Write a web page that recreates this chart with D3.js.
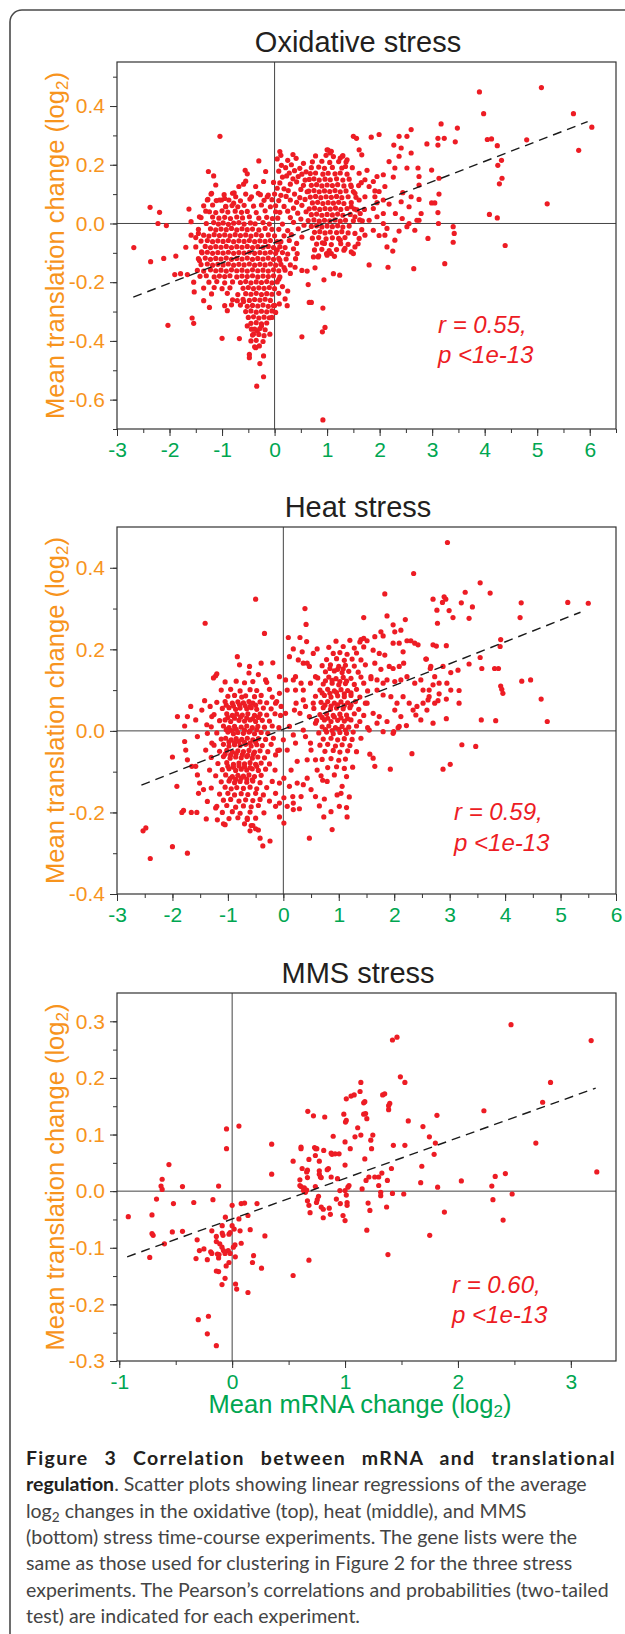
<!DOCTYPE html>
<html>
<head>
<meta charset="utf-8">
<script src="https://cdn.jsdelivr.net/npm/d3@7"></script>
<style>
  body { margin: 0; background: #fff; }
  svg { display: block; }
</style>
</head>
<body>
<svg id="fig" width="625" height="1634"></svg>
<script>
// ---- data (log2 mRNA change, log2 translation change) ----

// oxidative stress
const oxiPoints = [
  // sparse points right of the clusters
  [3.90,0.448],[5.08,0.463],[3.98,0.374],[5.69,0.374],[6.04,0.328],[5.79,0.249],[5.19,0.067],
  [3.17,0.339],[3.48,0.325],[2.60,0.32],[3.11,0.29],[3.23,0.29],[3.44,0.278],[3.11,0.267],[2.90,0.271],
  [4.05,0.286],[4.13,0.288],[4.80,0.285],[4.24,0.265],[4.32,0.215],[4.25,0.198],[4.33,0.154],[4.28,0.135],
  [4.09,0.031],[4.24,0.019],[4.39,-0.075],[3.40,-0.011],[3.42,-0.034],[3.40,-0.064],[3.24,-0.137],
  [3.12,0.0],[3.11,0.037],[3.13,0.10],[2.99,0.07],[3.05,0.07],[3.13,0.154],[2.99,0.182],[2.73,0.189],
  [2.52,0.189],[2.75,0.16],[2.75,0.131],[2.75,0.082],[2.79,0.034],[2.75,0.011],[2.92,-0.051],[2.65,-0.154],
  [2.16,-0.149],[2.25,-0.094],[2.14,-0.08],[1.80,-0.141],[2.37,0.297],[2.52,0.297],[1.99,0.303],[1.84,0.294],
  [1.50,0.297],[1.56,0.29],[2.27,0.267],[2.41,0.257],[2.37,0.229],[2.18,0.211],[2.29,0.189],[2.60,0.24],
  [2.07,0.166],[2.26,0.158],[1.76,0.181],[1.65,0.139],[2.10,0.126],[1.91,0.111],[2.44,0.105],[2.60,0.091],
  [2.41,0.074],[2.56,0.057],[2.18,0.066],[1.95,0.071],[1.88,0.051],[2.07,0.034],[2.30,0.034],[2.43,0.017],
  [2.52,-0.011],[2.37,-0.026],[2.14,-0.017],[2.10,-0.04],[1.99,-0.041],[2.29,-0.057],[2.67,-0.023],[2.56,0.0],
  [2.71,0.011],[1.63,0.034],[1.71,0.048],
  [1.46,0.126],[1.53,0.103],[1.61,0.08],[1.72,0.091],[1.80,0.126],[1.88,0.143],[1.99,0.109],[1.91,0.091],
  [1.61,0.171],[1.72,0.149],[1.95,0.16],[2.07,0.08],[1.80,0.011],[1.88,-0.023],[2.07,0.0],[1.72,-0.04],
  [1.95,0.023],[1.46,0.057],[1.53,-0.034],[1.61,-0.051],
  [1.35,0.194],[1.38,0.217],[1.66,0.234],[1.61,0.251],[1.25,0.223],[1.29,0.229],[1.0,0.251],[1.06,0.24],
  [1.66,-0.021],[1.67,0.009],[1.53,0.023],[1.57,0.046],
  // below the right cluster
  [0.92,-0.669],[0.52,-0.386],[0.96,-0.354],[0.91,-0.369],[0.92,-0.288],[0.66,-0.269],[0.70,-0.269],
  [0.64,-0.208],[0.94,-0.192],[0.77,-0.151],[1.12,-0.171],[1.24,-0.176],[0.52,-0.16],[0.62,-0.162],
  [0.39,-0.149],[0.43,-0.103],[0.74,-0.114],[0.83,-0.114],[0.99,-0.103],[1.08,-0.103],[0.91,-0.066],
  [1.25,-0.057],[1.34,-0.085],[1.53,-0.08],[1.59,-0.069],[1.46,-0.097],[1.50,-0.103],
  // left side
  [-2.68,-0.082],[-2.37,0.055],[-2.19,0.038],[-2.22,0.0],[-2.06,-0.007],[-2.36,-0.130],[-2.11,-0.119],
  [-1.88,-0.111],[-2.03,-0.347],[-1.69,-0.081],[-1.90,-0.174],[-1.79,-0.171],[-1.66,-0.174],[-1.57,-0.322],
  [-1.54,-0.34],[-1.63,0.049],[-1.59,0.006],[-1.59,-0.04],[-1.50,-0.048],[-1.54,-0.2],[-1.53,-0.233],
  [-1.47,-0.16],[-1.43,-0.126],[-1.35,-0.263],[-1.24,-0.286],[-1.26,0.177],[-1.16,0.162],[-1.12,0.131],
  [-1.04,0.297],[-1.00,-0.391],[-0.67,-0.392],[-0.90,-0.297],[-0.82,-0.277],[-0.71,-0.263],[-0.59,-0.266],
  [-1.28,0.08],[-1.20,0.103],[-1.31,0.042],[-1.43,0.023],[-1.45,-0.034],[-1.39,-0.097],[-1.05,0.08],
  [-1.01,0.08],[-0.95,0.085],[-0.68,0.126],[-0.59,0.134],[-0.55,0.144],[-0.56,0.181],[-0.52,0.169],
  [-0.30,0.213],[-0.17,0.177],[-0.36,0.126],[-0.21,0.143],[-0.44,0.091],[-0.27,0.098],[-0.14,0.091],
  [-0.80,0.103],[-0.74,0.091],[-0.93,0.057],[-0.78,0.069],
  // tail going down near zero
  [-0.34,-0.554],[-0.21,-0.522],[-0.28,-0.477],[-0.21,-0.451],[-0.48,-0.446],[-0.48,-0.457],[-0.36,-0.423],
  [-0.29,-0.417],[-0.09,-0.377],[-0.40,-0.377],[-0.33,-0.366],[-0.44,-0.36],[-0.52,-0.349],[-0.25,-0.349],
  [-0.05,-0.32],[0.02,-0.303],[-0.02,-0.28],[0.09,-0.274],[0.20,-0.257],[0.24,-0.28],
  // between the clusters
  [0.10,0.245],[0.12,0.232],[0.35,0.235],[0.05,0.22],[0.25,0.215],[0.41,0.222],[0.55,0.205],
  [0.13,0.198],[0.21,0.19],[0.32,0.2],[0.48,0.188],[0.08,0.178],[0.28,0.172],[0.38,0.18],[0.52,0.168],
  [0.60,0.176],[0.15,0.158],[0.23,0.162],[0.35,0.152],[0.45,0.16],[0.58,0.148],[-0.02,0.14],[0.10,0.138],
  [0.30,0.134],[0.42,0.142],[0.55,0.13],[0.05,0.12],[0.18,0.118],[0.26,0.112],[0.50,0.116],[0.62,0.108],
  [0.00,0.10],[0.12,0.096],[0.22,0.092],[0.38,0.1],[0.48,0.088],[0.08,0.078],[0.30,0.08],[0.42,0.072],
  [0.58,0.082],[0.02,0.06],[0.18,0.058],[0.36,0.052],[0.52,0.062],[0.10,0.038],[0.25,0.042],[0.44,0.035],
  [0.60,0.04],[0.06,0.018],[0.30,0.02],[0.50,0.015],[0.15,-0.002],[0.36,0.004],[0.56,-0.006],[0.08,-0.02],
  [0.25,-0.024],[0.45,-0.018],[0.18,-0.042],[0.32,-0.038],[0.52,-0.046],[0.12,-0.062],[0.28,-0.058],
  [0.42,-0.068],[0.20,-0.082],[0.36,-0.086],[0.05,-0.09],[0.25,-0.104],[0.40,-0.12],[0.10,-0.125],
  [0.18,-0.15],[0.30,-0.17],[0.08,-0.19],[0.15,-0.215],[0.25,-0.23],
  // dense left cluster
  [-1.21,0.1],[-0.96,0.098],[-0.77,0.104],[-0.55,0.1],[-0.31,0.103],[-0.12,0.097],
  [-1.27,0.082],[-1.11,0.078],[-0.87,0.08],[-0.65,0.077],[-0.47,0.083],[-0.20,0.079],[-0.05,0.081],
  [-1.35,0.06],[-1.18,0.063],[-0.93,0.058],[-0.81,0.061],[-0.70,0.057],[-0.58,0.062],[-0.40,0.059],[-0.25,0.063],[-0.08,0.057],
  [-1.24,0.04],[-1.12,0.037],[-1.00,0.043],[-0.89,0.039],[-0.75,0.042],[-0.63,0.038],[-0.52,0.041],[-0.35,0.037],[-0.18,0.043],[0.02,0.04],
  [-1.40,0.02],[-1.18,0.022],[-1.06,0.018],[-0.95,0.021],[-0.84,0.017],[-0.72,0.022],[-0.61,0.019],[-0.48,0.023],[-0.30,0.018],[-0.15,0.021],[-0.04,0.017],
  [-1.30,0.0],[-1.16,0.003],[-1.07,-0.002],[-0.98,0.002],[-0.88,-0.003],[-0.78,0.001],[-0.68,0.003],[-0.58,-0.002],[-0.46,0.002],[-0.37,-0.001],[-0.22,0.003],[-0.10,-0.002],
  [-1.45,-0.02],[-1.22,-0.018],[-1.12,-0.022],[-1.02,-0.019],[-0.92,-0.021],[-0.82,-0.017],[-0.72,-0.022],[-0.62,-0.018],[-0.52,-0.021],[-0.42,-0.019],[-0.30,-0.022],[-0.18,-0.017],[-0.05,-0.02],
  [-1.35,-0.04],[-1.25,-0.043],[-1.15,-0.038],[-1.05,-0.041],[-0.95,-0.039],[-0.85,-0.042],[-0.75,-0.038],[-0.65,-0.041],[-0.55,-0.039],[-0.45,-0.043],[-0.35,-0.038],[-0.25,-0.041],[-0.12,-0.039],[0.0,-0.042],
  [-1.40,-0.06],[-1.28,-0.058],[-1.18,-0.062],[-1.08,-0.059],[-0.98,-0.061],[-0.88,-0.058],[-0.78,-0.062],[-0.68,-0.059],[-0.58,-0.061],[-0.48,-0.058],[-0.38,-0.062],[-0.28,-0.059],[-0.18,-0.061],[-0.08,-0.058],[0.05,-0.062],
  [-1.50,-0.08],[-1.32,-0.078],[-1.22,-0.082],[-1.12,-0.079],[-1.02,-0.081],[-0.92,-0.078],[-0.82,-0.082],[-0.72,-0.079],[-0.62,-0.081],[-0.52,-0.078],[-0.42,-0.082],[-0.32,-0.079],[-0.22,-0.081],[-0.12,-0.078],[-0.02,-0.082],[0.10,-0.079],
  [-1.38,-0.1],[-1.28,-0.098],[-1.18,-0.102],[-1.08,-0.099],[-0.98,-0.101],[-0.88,-0.098],[-0.78,-0.102],[-0.68,-0.099],[-0.58,-0.101],[-0.48,-0.098],[-0.38,-0.102],[-0.28,-0.099],[-0.18,-0.101],[-0.08,-0.098],[0.02,-0.102],[0.15,-0.099],
  [-1.45,-0.12],[-1.32,-0.118],[-1.22,-0.122],[-1.12,-0.119],[-1.02,-0.121],[-0.92,-0.118],[-0.82,-0.122],[-0.72,-0.119],[-0.62,-0.121],[-0.52,-0.118],[-0.42,-0.122],[-0.32,-0.119],[-0.22,-0.121],[-0.12,-0.118],[-0.02,-0.122],[0.08,-0.119],[0.22,-0.121],
  [-1.40,-0.14],[-1.28,-0.138],[-1.18,-0.142],[-1.08,-0.139],[-0.98,-0.141],[-0.88,-0.138],[-0.78,-0.142],[-0.68,-0.139],[-0.58,-0.141],[-0.48,-0.138],[-0.38,-0.142],[-0.28,-0.139],[-0.18,-0.141],[-0.08,-0.138],[0.02,-0.142],[0.12,-0.139],[0.30,-0.141],
  [-1.35,-0.162],[-1.22,-0.158],[-1.12,-0.161],[-1.02,-0.159],[-0.92,-0.162],[-0.82,-0.158],[-0.72,-0.161],[-0.62,-0.159],[-0.52,-0.162],[-0.42,-0.158],[-0.32,-0.161],[-0.22,-0.159],[-0.12,-0.162],[-0.02,-0.158],[0.08,-0.161],[0.20,-0.159],
  [-1.42,-0.18],[-1.30,-0.178],[-1.15,-0.182],[-1.05,-0.179],[-0.95,-0.181],[-0.85,-0.178],[-0.72,-0.182],[-0.62,-0.179],[-0.52,-0.181],[-0.42,-0.178],[-0.32,-0.182],[-0.22,-0.179],[-0.12,-0.181],[-0.02,-0.178],[0.10,-0.182],
  [-1.25,-0.2],[-1.10,-0.198],[-0.95,-0.202],[-0.80,-0.199],[-0.65,-0.201],[-0.55,-0.198],[-0.45,-0.202],[-0.35,-0.199],[-0.25,-0.201],[-0.15,-0.198],[-0.05,-0.202],[0.05,-0.199],
  [-1.35,-0.22],[-1.15,-0.218],[-1.00,-0.222],[-0.85,-0.219],[-0.60,-0.221],[-0.50,-0.218],[-0.40,-0.222],[-0.30,-0.219],[-0.20,-0.221],[-0.10,-0.218],[0.0,-0.222],
  [-1.20,-0.24],[-0.90,-0.238],[-0.70,-0.242],[-0.55,-0.239],[-0.45,-0.241],[-0.35,-0.238],[-0.25,-0.242],[-0.15,-0.239],[-0.05,-0.241],[0.08,-0.238],
  [-0.80,-0.26],[-0.60,-0.258],[-0.48,-0.262],[-0.38,-0.259],[-0.28,-0.261],[-0.18,-0.258],[-0.08,-0.262],
  [-0.95,-0.28],[-0.65,-0.278],[-0.52,-0.282],[-0.42,-0.279],[-0.32,-0.281],[-0.22,-0.278],[-0.12,-0.282],[0.0,-0.279],
  [-0.55,-0.3],[-0.45,-0.298],[-0.35,-0.302],[-0.25,-0.299],[-0.15,-0.301],[-0.05,-0.298],
  [-0.50,-0.32],[-0.40,-0.318],[-0.30,-0.322],[-0.20,-0.319],[-0.10,-0.321],
  [-0.45,-0.34],[-0.35,-0.338],[-0.25,-0.342],[-0.15,-0.339],
  [-0.38,-0.36],[-0.28,-0.358],[-0.18,-0.362],[-0.42,-0.38],[-0.30,-0.378],[-0.20,-0.382],
  [-0.45,-0.40],[-0.35,-0.398],[-0.22,-0.402],[-0.38,-0.42],
  // dense right cluster
  [1.02,0.25],[1.08,0.246],
  [0.78,0.23],[0.98,0.232],[1.12,0.228],[1.30,0.231],
  [0.72,0.21],[0.90,0.212],[1.05,0.208],[1.22,0.211],[1.36,0.209],
  [0.70,0.19],[0.84,0.192],[0.95,0.188],[1.10,0.191],[1.28,0.189],[1.48,0.19],
  [0.68,0.17],[0.78,0.172],[0.92,0.168],[1.02,0.171],[1.15,0.169],[1.25,0.172],[1.38,0.168],
  [0.66,0.15],[0.75,0.152],[0.85,0.148],[0.96,0.151],[1.06,0.149],[1.18,0.152],[1.30,0.148],[1.42,0.151],
  [0.70,0.13],[0.80,0.132],[0.90,0.128],[1.00,0.131],[1.10,0.129],[1.20,0.132],[1.32,0.128],[1.45,0.131],[1.60,0.129],
  [0.65,0.11],[0.75,0.112],[0.85,0.108],[0.95,0.111],[1.05,0.109],[1.15,0.112],[1.25,0.108],[1.36,0.111],[1.50,0.109],
  [0.68,0.09],[0.78,0.092],[0.88,0.088],[0.98,0.091],[1.08,0.089],[1.18,0.092],[1.28,0.088],[1.40,0.091],[1.55,0.089],
  [0.72,0.07],[0.82,0.072],[0.92,0.068],[1.02,0.071],[1.12,0.069],[1.22,0.072],[1.32,0.068],[1.46,0.071],
  [0.66,0.05],[0.76,0.052],[0.86,0.048],[0.96,0.051],[1.06,0.049],[1.16,0.052],[1.26,0.048],[1.38,0.051],[1.52,0.049],
  [0.70,0.03],[0.80,0.032],[0.90,0.028],[1.00,0.031],[1.10,0.029],[1.20,0.032],[1.30,0.028],[1.44,0.031],
  [0.64,0.01],[0.75,0.012],[0.85,0.008],[0.95,0.011],[1.05,0.009],[1.15,0.012],[1.25,0.008],[1.35,0.011],[1.50,0.009],[1.62,0.012],
  [0.70,-0.01],[0.80,-0.008],[0.90,-0.012],[1.00,-0.009],[1.10,-0.011],[1.20,-0.008],[1.30,-0.012],[1.42,-0.009],
  [0.76,-0.03],[0.86,-0.028],[0.96,-0.032],[1.06,-0.029],[1.18,-0.031],[1.28,-0.028],[1.40,-0.032],
  [0.72,-0.05],[0.84,-0.048],[0.98,-0.052],[1.10,-0.049],[1.22,-0.051],[1.34,-0.048],
  [0.80,-0.07],[0.95,-0.068],[1.08,-0.072],[1.26,-0.069],[1.40,-0.071],
  [0.76,-0.09],[0.90,-0.088],[1.04,-0.092],[1.18,-0.089],[1.32,-0.091],
  [0.84,-0.11],[1.00,-0.108],[1.14,-0.112]
];

// heat stress
const heatPoints = [
  [2.96,0.462],[2.35,0.386],[3.55,0.363],[3.73,0.338],[3.28,0.34],[2.70,0.323],[2.90,0.329],[2.93,0.323],
  [2.99,0.295],[2.87,0.315],[3.21,0.314],[3.41,0.304],[3.35,0.276],[3.06,0.278],[2.78,0.264],
  [4.29,0.314],[4.27,0.278],[5.13,0.315],[5.50,0.313],[2.77,0.296],[1.83,0.336],[1.87,0.282],[2.20,0.273],
  [1.45,0.278],[1.98,0.26],[2.01,0.243],[1.80,0.233],
  [-0.50,0.323],[-0.34,0.239],[-1.41,0.264],[0.39,0.300],[0.41,0.261],[0.09,0.229],[0.30,0.229],
  [0.18,0.201],[0.34,0.194],[0.42,0.219],[0.61,0.201],[0.54,0.19],[0.36,0.166],[0.43,0.166],[0.22,0.133],
  [0.32,0.117],[0.36,0.10],
  [-0.83,0.182],[-0.79,0.162],[-0.61,0.158],[-0.40,0.166],[-0.19,0.167],[-0.32,0.125],
  [-1.22,0.135],[-1.26,0.13],[-1.42,0.074],[-1.67,0.06],[-1.91,0.035],[-1.78,0.012],[-1.58,0.027],
  [-1.38,0.015],[-1.37,-0.006],
  [-2.0,-0.064],[-1.92,-0.136],[-1.80,-0.195],[-1.83,-0.20],[-1.66,-0.2],[-1.56,-0.2],[-1.39,-0.216],
  [-2.53,-0.245],[-2.48,-0.238],[-2.40,-0.313],[-2.0,-0.284],[-1.73,-0.30],[-1.08,-0.228],[-1.19,-0.218],
  [-1.22,-0.189],[-0.42,-0.263],[-0.37,-0.282],[-0.24,-0.27],[-0.50,-0.24],[-0.58,-0.232],[-0.65,-0.214],
  [-0.07,-0.211],[0.01,-0.164],[0.18,-0.193],[0.17,-0.161],[0.29,-0.191],
  [0.47,-0.263],[0.88,-0.242],[0.73,-0.211],[0.65,-0.184],[0.86,-0.198],[1.01,-0.185],[1.15,-0.211],
  [1.14,-0.188],[0.97,-0.157],[1.04,-0.153],[1.19,-0.162],[1.06,-0.136],[0.71,-0.121],[0.74,-0.167],[0.79,-0.124],
  [2.32,-0.056],[1.93,-0.094],[1.65,-0.087],[1.62,-0.067],[1.56,-0.057],[2.88,-0.094],[3.01,-0.082],
  [3.22,-0.034],[3.47,-0.038],[3.57,0.027],[3.83,0.025],[4.76,0.023],[4.65,0.078],[2.70,0.019],[2.94,0.03],
  [3.17,0.068],[3.17,0.099],[3.92,0.11],[3.94,0.102],[3.96,0.092],[4.30,0.122],[4.46,0.125],
  [3.58,0.153],[3.81,0.153],[3.88,0.153],[3.55,0.18],[3.91,0.207],[3.92,0.224],
  [3.35,0.164],[3.15,0.149],[3.02,0.143],[2.70,0.113],[2.81,0.091],[2.94,0.078],[2.79,0.074],
  [2.59,0.051],[2.61,0.076],[2.63,0.10],[2.52,0.068],[2.39,0.039],[2.22,0.013],[2.07,0.008],[1.99,-0.002],
  [2.70,0.211],[2.76,0.208],[2.94,0.209],[2.57,0.176],[2.65,0.153],[2.37,0.215],[2.16,0.194],[2.12,0.247],
  // spread right of the right cluster
  [1.40,0.224],[1.45,0.227],[1.51,0.221],[1.65,0.231],[1.76,0.243],[1.98,0.215],[2.09,0.215],[2.23,0.221],
  [2.30,0.221],[2.43,0.211],[1.62,0.198],[1.73,0.19],[1.83,0.186],[1.65,0.166],[1.76,0.151],[1.91,0.158],
  [1.98,0.153],[2.09,0.158],[2.17,0.166],[1.58,0.133],[1.69,0.125],[1.80,0.117],[1.87,0.125],[2.01,0.121],
  [2.12,0.125],[2.23,0.133],[2.37,0.117],[2.48,0.125],[1.69,0.10],[1.80,0.088],[1.94,0.084],[2.05,0.068],
  [2.16,0.084],[2.27,0.068],[2.41,0.06],[1.51,0.068],[1.62,0.043],[1.73,0.035],[1.87,0.023],[2.01,0.051],
  [2.12,0.035],[2.34,0.051],[2.48,0.027],[1.55,0.002],[1.69,0.019],[1.80,-0.002],[1.98,-0.006],[2.09,0.011],
  [2.58,0.176],[2.66,0.158],[2.73,0.133],[2.88,0.158],[2.95,0.117],[2.81,0.117],[3.02,0.10],[2.63,0.084],
  [2.73,0.068],[2.52,0.10],
  // between the clusters
  [-0.07,0.133],[0.04,0.125],[0.07,0.10],[-0.07,0.092],[-0.14,0.068],[-0.04,0.06],[0.04,0.043],[0.18,0.125],
  [0.22,0.10],[0.23,0.068],[0.20,0.051],[0.30,0.043],[0.40,0.06],[0.11,0.011],[0.18,-0.01],[0.0,-0.022],
  [-0.07,-0.047],[-0.14,-0.059],[0.07,-0.047],[0.22,-0.03],[0.25,-0.075],[0.14,-0.096],[0.01,-0.116],
  [-0.07,-0.128],[-0.14,-0.153],[0.11,-0.136],[0.25,-0.128],[0.36,-0.132],[0.18,-0.177],[0.07,-0.185],
  [0.32,-0.161],[-0.14,-0.185],[0.01,-0.226],[-0.07,-0.177],[0.36,0.002],[0.40,-0.014],[0.49,-0.03],
  [0.50,-0.047],[0.43,-0.071],[0.58,-0.071],[0.61,-0.096],[0.43,-0.116],[0.50,-0.144],[0.58,-0.161],
  [0.11,0.182],[0.27,0.174],[0.47,0.158],[0.58,0.133],[0.49,0.117],[0.36,0.076],[0.54,0.068],[0.47,0.035],[0.58,0.019],
  // left of the left cluster
  [-1.78,-0.026],[-1.76,-0.047],[-1.73,-0.071],[-1.65,-0.087],[-1.55,-0.108],[-1.51,-0.128],[-1.44,-0.144],
  [-1.53,-0.153],[-1.37,-0.173],[-1.33,-0.096],[-1.40,-0.047],[-1.29,-0.03],[-1.55,-0.014],[-1.73,0.035],
  [-1.47,0.051],[-1.32,0.06],[-1.29,0.035],[-1.58,-0.087],
  // left cluster
  [-1.20,0.14],[-0.62,0.142],[-0.45,0.138],
  [-1.05,0.12],[-0.85,0.122],[-0.70,0.118],[-0.55,0.121],[-0.30,0.119],
  [-1.12,0.1],[-0.95,0.102],[-0.78,0.098],[-0.60,0.101],[-0.48,0.099],[-0.25,0.102],
  [-1.00,0.085],[-0.88,0.087],[-0.75,0.083],[-0.68,0.086],[-0.52,0.084],[-0.40,0.087],[-0.20,0.083],
  [-1.20,0.07],[-1.05,0.072],[-0.92,0.068],[-0.82,0.071],[-0.72,0.069],[-0.62,0.072],[-0.55,0.068],[-0.42,0.071],[-0.30,0.069],[-0.12,0.072],
  [-1.10,0.055],[-0.98,0.057],[-0.86,0.053],[-0.78,0.056],[-0.66,0.054],[-0.58,0.057],[-0.48,0.053],[-0.36,0.056],[-0.22,0.054],
  [-1.25,0.04],[-1.02,0.042],[-0.92,0.038],[-0.84,0.041],[-0.74,0.039],[-0.64,0.042],[-0.52,0.038],[-0.42,0.041],[-0.30,0.039],[-0.15,0.042],[-0.05,0.038],
  [-1.15,0.025],[-1.05,0.027],[-0.95,0.023],[-0.80,0.026],[-0.70,0.024],[-0.60,0.027],[-0.50,0.023],[-0.38,0.026],[-0.25,0.024],
  [-1.30,0.01],[-1.08,0.012],[-0.98,0.008],[-0.88,0.011],[-0.76,0.009],[-0.66,0.012],[-0.56,0.008],[-0.46,0.011],[-0.34,0.009],[-0.20,0.012],[-0.08,0.008],
  [-1.20,-0.005],[-1.00,-0.003],[-0.90,-0.007],[-0.82,-0.004],[-0.72,-0.006],[-0.62,-0.003],[-0.52,-0.007],[-0.40,-0.004],[-0.28,-0.006],
  [-1.12,-0.02],[-1.04,-0.018],[-0.94,-0.022],[-0.85,-0.019],[-0.75,-0.021],[-0.65,-0.018],[-0.55,-0.022],[-0.45,-0.019],[-0.32,-0.021],[-0.18,-0.018],
  [-1.25,-0.035],[-1.08,-0.033],[-0.98,-0.037],[-0.88,-0.034],[-0.78,-0.036],[-0.68,-0.033],[-0.58,-0.037],[-0.48,-0.034],[-0.38,-0.036],[-0.22,-0.033],
  [-1.15,-0.05],[-1.02,-0.048],[-0.92,-0.052],[-0.82,-0.049],[-0.72,-0.051],[-0.62,-0.048],[-0.52,-0.052],[-0.42,-0.049],[-0.28,-0.051],[-0.10,-0.048],
  [-1.30,-0.065],[-1.08,-0.063],[-0.96,-0.067],[-0.86,-0.064],[-0.76,-0.066],[-0.66,-0.063],[-0.56,-0.067],[-0.46,-0.064],[-0.34,-0.066],
  [-1.18,-0.08],[-1.02,-0.078],[-0.90,-0.082],[-0.80,-0.079],[-0.70,-0.081],[-0.60,-0.078],[-0.50,-0.082],[-0.40,-0.079],[-0.25,-0.081],
  [-1.10,-0.095],[-0.98,-0.093],[-0.86,-0.097],[-0.76,-0.094],[-0.66,-0.096],[-0.56,-0.093],[-0.45,-0.097],[-0.32,-0.094],[-0.15,-0.096],
  [-1.22,-0.11],[-1.04,-0.108],[-0.92,-0.112],[-0.82,-0.109],[-0.72,-0.111],[-0.62,-0.108],[-0.52,-0.112],[-0.40,-0.109],
  [-1.12,-0.125],[-0.98,-0.123],[-0.88,-0.127],[-0.78,-0.124],[-0.66,-0.126],[-0.55,-0.123],[-0.42,-0.127],[-0.20,-0.124],
  [-1.30,-0.14],[-1.05,-0.138],[-0.94,-0.142],[-0.84,-0.139],[-0.72,-0.141],[-0.60,-0.138],[-0.48,-0.142],[-0.30,-0.139],
  [-1.15,-0.155],[-1.00,-0.153],[-0.88,-0.157],[-0.76,-0.154],[-0.64,-0.156],[-0.50,-0.153],[-0.36,-0.157],
  [-1.08,-0.17],[-0.95,-0.168],[-0.80,-0.172],[-0.68,-0.169],[-0.55,-0.171],[-0.42,-0.168],[-0.25,-0.172],
  [-1.20,-0.185],[-1.02,-0.183],[-0.86,-0.187],[-0.72,-0.184],[-0.58,-0.186],[-0.45,-0.183],
  [-1.10,-0.2],[-0.92,-0.198],[-0.78,-0.202],[-0.60,-0.199],[-0.35,-0.201],
  [-0.98,-0.215],[-0.82,-0.213],[-0.65,-0.217],[-0.50,-0.214],
  [-1.05,-0.23],[-0.70,-0.228],[-0.55,-0.232],[-0.60,-0.245],[-0.45,-0.243],
  // left cluster core
  [-1.03,0.063],[-0.90,0.061],[-0.79,0.064],[-0.69,0.062],[-0.60,0.06],[-0.50,0.063],
  [-1.00,0.033],[-0.88,0.031],[-0.77,0.034],[-0.66,0.032],[-0.55,0.03],[-0.45,0.033],
  [-1.03,0.003],[-0.93,0.001],[-0.85,0.004],[-0.70,0.002],[-0.60,0.0],[-0.48,0.003],
  [-0.98,-0.027],[-0.88,-0.029],[-0.80,-0.026],[-0.70,-0.028],[-0.60,-0.03],[-0.50,-0.027],
  [-1.05,-0.057],[-0.95,-0.059],[-0.85,-0.056],[-0.74,-0.058],[-0.64,-0.06],[-0.54,-0.057],
  [-1.00,-0.087],[-0.90,-0.089],[-0.80,-0.086],[-0.70,-0.088],[-0.60,-0.09],[-0.48,-0.087],
  [-0.96,-0.117],[-0.86,-0.119],[-0.76,-0.116],[-0.66,-0.118],[-0.56,-0.12],
  // right cluster
  [0.95,0.22],[1.20,0.222],[1.38,0.218],
  [0.82,0.205],[1.08,0.207],[1.28,0.203],[1.45,0.206],
  [0.90,0.19],[1.02,0.192],[1.15,0.188],[1.32,0.191],
  [0.78,0.175],[0.96,0.177],[1.10,0.173],[1.24,0.176],[1.40,0.174],
  [0.70,0.16],[0.85,0.162],[1.00,0.158],[1.12,0.161],[1.28,0.159],[1.48,0.162],
  [0.76,0.145],[0.92,0.147],[1.06,0.143],[1.18,0.146],[1.35,0.144],
  [0.62,0.13],[0.82,0.132],[0.95,0.128],[1.08,0.131],[1.22,0.129],[1.40,0.132],[1.58,0.128],
  [0.72,0.115],[0.88,0.117],[1.00,0.113],[1.12,0.116],[1.28,0.114],[1.45,0.117],
  [0.66,0.1],[0.80,0.102],[0.92,0.098],[1.04,0.101],[1.16,0.099],[1.32,0.102],[1.52,0.098],
  [0.58,0.085],[0.74,0.087],[0.86,0.083],[0.98,0.086],[1.10,0.084],[1.22,0.087],[1.38,0.083],
  [0.68,0.07],[0.80,0.072],[0.92,0.068],[1.04,0.071],[1.16,0.069],[1.30,0.072],[1.48,0.068],
  [0.55,0.055],[0.72,0.057],[0.85,0.053],[0.96,0.056],[1.08,0.054],[1.20,0.057],[1.36,0.053],
  [0.66,0.04],[0.78,0.042],[0.90,0.038],[1.02,0.041],[1.14,0.039],[1.28,0.042],[1.45,0.038],
  [0.60,0.025],[0.74,0.027],[0.86,0.023],[0.98,0.026],[1.10,0.024],[1.22,0.027],[1.38,0.023],
  [0.70,0.01],[0.82,0.012],[0.94,0.008],[1.06,0.011],[1.18,0.009],[1.32,0.012],[1.52,0.008],
  [0.64,-0.005],[0.78,-0.003],[0.90,-0.007],[1.02,-0.004],[1.14,-0.006],[1.26,-0.003],
  [0.72,-0.02],[0.86,-0.018],[0.98,-0.022],[1.10,-0.019],[1.24,-0.021],[1.40,-0.018],
  [0.66,-0.035],[0.80,-0.033],[0.94,-0.037],[1.06,-0.034],[1.20,-0.036],
  [0.75,-0.05],[0.90,-0.048],[1.02,-0.052],[1.16,-0.049],[1.32,-0.051],
  [0.70,-0.07],[0.86,-0.068],[1.00,-0.072],[1.12,-0.069],
  [0.80,-0.09],[0.96,-0.088],[1.10,-0.092],[1.25,-0.089],
  [0.68,-0.11],[0.92,-0.108],[1.14,-0.112],
  // right cluster core
  [0.76,0.123],[0.88,0.124],[1.02,0.121],[1.14,0.122],
  [0.70,0.093],[0.84,0.092],[0.96,0.094],[1.10,0.091],[1.22,0.093],
  [0.75,0.063],[0.86,0.061],[0.98,0.064],[1.10,0.062],[1.22,0.063],
  [0.70,0.033],[0.80,0.031],[0.92,0.034],[1.04,0.032],[1.16,0.03],
  [0.76,0.003],[0.88,0.001],[1.00,0.004],[1.12,0.002],
  [0.84,0.153],[0.98,0.151],[1.08,0.152]
];

// MMS stress
const mmsPoints = [
  [-0.92,-0.045],[-0.73,-0.117],[-0.71,-0.042],[-0.71,-0.075],[-0.70,-0.078],[-0.67,-0.014],[-0.62,0.021],
  [-0.63,0.009],[-0.62,0.003],[-0.60,-0.093],[-0.56,0.047],[-0.52,-0.022],[-0.53,-0.072],[-0.44,-0.071],
  [-0.44,0.008],[-0.34,-0.02],[-0.31,-0.086],[-0.29,-0.105],[-0.32,-0.119],[-0.30,-0.227],[-0.25,-0.102],
  [-0.22,-0.121],[-0.21,-0.221],[-0.22,-0.252],[-0.19,-0.107],[-0.18,-0.11],[-0.18,-0.07],[-0.17,-0.015],
  [-0.14,-0.080],[-0.14,-0.089],[-0.13,-0.111],[-0.12,-0.118],[-0.116,-0.112],[-0.14,-0.141],[-0.12,-0.142],
  [-0.14,-0.273],[-0.12,0.009],[-0.11,-0.093],[-0.09,-0.099],[-0.09,-0.165],[-0.088,-0.074],[-0.081,-0.078],
  [-0.088,-0.061],[-0.077,-0.105],[-0.063,-0.154],[-0.063,-0.110],[-0.053,-0.132],[-0.06,-0.046],[-0.05,0.075],
  [-0.05,0.11],[-0.035,-0.105],[-0.028,-0.126],[-0.018,-0.110],[-0.028,-0.076],[-0.018,-0.073],[0.0,-0.025],
  [0.0,-0.061],[0.011,-0.099],[0.018,-0.067],[0.025,-0.095],[0.028,-0.116],[0.03,-0.164],[0.04,-0.173],
  [0.06,0.115],[0.06,-0.049],[0.07,-0.07],[0.08,-0.092],[0.08,-0.022],[0.11,-0.021],[0.14,-0.043],[0.16,-0.068],
  [0.14,-0.179],[0.19,-0.114],[0.18,-0.126],[0.22,-0.022],[0.26,-0.136],[0.29,-0.079],[0.35,0.083],[0.35,0.03],
  [0.54,-0.149],[0.54,0.053],[0.60,0.02],[0.60,0.01],[0.61,0.008],[0.62,0.04],[0.61,0.078],[0.61,0.075],
  [0.632,0.001],[0.639,0.006],[0.649,-0.002],[0.66,0.002],[0.67,0.141],[0.68,-0.122],[0.667,-0.017],
  [0.66,0.034],[0.667,0.037],[0.667,0.024],[0.68,-0.025],[0.69,-0.038],[0.68,0.056],[0.72,0.133],[0.73,0.077],
  [0.74,0.075],[0.75,0.075],[0.737,0.063],[0.737,0.008],[0.747,-0.02],[0.754,-0.015],[0.765,-0.009],
  [0.772,0.053],[0.772,0.036],[0.772,0.03],[0.782,0.025],[0.789,0.024],[0.789,-0.028],[0.807,-0.047],
  [0.807,-0.032],[0.82,0.131],[0.811,0.072],[0.853,0.04],[0.842,0.038],[0.86,-0.03],[0.87,-0.041],[0.877,0.025],
  [0.877,0.067],[0.884,0.065],[0.895,0.097],[0.912,0.066],[0.923,-0.014],[0.933,0.022],[0.947,0.066],
  [0.954,0.001],[0.958,-0.022],[0.982,-0.043],[0.989,0.136],[1.0,0.087],[1.004,0.122],[1.011,0.163],
  [1.011,0.125],[1.0,0.046],[1.0,0.001],[1.011,-0.007],[1.018,-0.02],[1.0,-0.052],[1.018,-0.025],[1.025,0.007],
  [1.035,0.01],[1.046,0.075],[1.053,0.168],[1.081,0.17],[1.088,0.096],[1.112,0.112],[1.133,0.176],[1.14,0.192],
  [1.14,0.099],[1.151,0.004],[1.165,0.156],[1.165,0.136],[1.175,0.158],[1.175,0.057],[1.182,0.137],
  [1.193,-0.069],[1.193,0.128],[1.186,0.019],[1.204,-0.021],[1.211,0.025],[1.228,0.09],[1.235,0.075],
  [1.246,0.099],[1.263,0.025],[1.22,-0.034],[1.298,0.025],[1.298,0.01],[1.316,-0.008],[1.316,-0.002],
  [1.326,0.032],[1.333,0.17],[1.351,0.172],[1.375,0.019],[1.368,-0.028],[1.386,0.151],[1.386,0.144],
  [1.396,0.155],[1.411,0.04],[1.428,0.081],[1.38,-0.112],[1.42,0.267],[1.46,0.272],[1.49,0.202],[1.53,0.192],
  [1.42,-0.004],[1.52,-0.005],[1.53,0.081],[1.56,0.124],[1.68,0.044],[1.67,0.015],[1.69,0.114],[1.747,0.096],
  [1.80,0.085],[1.789,0.065],[1.814,0.134],[1.82,0.007],[1.88,-0.037],[1.75,-0.078],[2.03,0.018],[2.23,0.142],
  [2.30,0.009],[2.31,-0.015],[2.33,0.026],[2.40,-0.051],[2.42,0.031],[2.48,-0.005],[2.47,0.294],[2.75,0.157],
  [2.69,0.085],[2.82,0.192],[3.18,0.266],[3.23,0.034]
];

// regression lines (end points)
const oxiFit = [[-2.69,-0.251],[5.96,0.347]];
const heatFit = [[-2.56,-0.133],[5.36,0.291]];
const mmsFit = [[-0.93,-0.116],[3.22,0.182]];

// correlation labels
const oxiStats = ["r = 0.55,", "p <1e-13"];
const heatStats = ["r = 0.59,", "p <1e-13"];
const mmsStats = ["r = 0.60,", "p <1e-13"];

// tick values
const oxiYTicks = [-0.6, -0.4, -0.2, 0, 0.2, 0.4];
const heatYTicks = [-0.4, -0.2, 0, 0.2, 0.4];
const mmsYTicks = [-0.3, -0.2, -0.1, 0, 0.1, 0.2, 0.3];
const oxiXTicks = [-3, -2, -1, 0, 1, 2, 3, 4, 5, 6];
const heatXTicks = [-3, -2, -1, 0, 1, 2, 3, 4, 5, 6];
const mmsXTicks = [-1, 0, 1, 2, 3];

const titles = ["Oxidative stress", "Heat stress", "MMS stress"];

const captionLines = [
  "Figure 3 Correlation between mRNA and translational",
  ". Scatter plots showing linear regressions of the average",
  " changes in the oxidative (top), heat (middle), and MMS",
  "(bottom) stress time-course experiments. The gene lists were the",
  "same as those used for clustering in Figure 2 for the three stress",
  "experiments. The Pearson\u2019s correlations and probabilities (two-tailed",
  "test) are indicated for each experiment."
];

// ---- drawing ----
const RED = "#ed1c24", ORANGE = "#f7941d", GREEN = "#00a651", INK = "#231f20";
const FONT = "'Liberation Sans', Arial, Helvetica, sans-serif";
const svg = d3.select("#fig");
const left = 117, right = 616;

// outer frame (right and bottom run off the page)
svg.append("rect")
  .attr("x", 10).attr("y", 10).attr("width", 700).attr("height", 1700)
  .attr("rx", 12).attr("fill", "none").attr("stroke", "#4a4a4a").attr("stroke-width", 1.6);

const panels = [
  { title: titles[0], pts: oxiPoints, fit: oxiFit, stats: oxiStats,
    xDomain: [-3, 6.5], yDomain: [-0.7, 0.55], top: 62, bottom: 429, titleY: 52,
    xTicks: oxiXTicks, yTicks: oxiYTicks, xMinor: d3.range(-3, 6.6, 0.5), yMinor: d3.range(-7, 6).map(i => i / 10),
    annX: 438, annY: [333, 363] },
  { title: titles[1], pts: heatPoints, fit: heatFit, stats: heatStats,
    xDomain: [-3, 6], yDomain: [-0.4, 0.5], top: 527, bottom: 894, titleY: 517,
    xTicks: heatXTicks, yTicks: heatYTicks, xMinor: d3.range(-3, 6.1, 0.5), yMinor: d3.range(-4, 5).map(i => i / 10),
    annX: 454, annY: [820, 851] },
  { title: titles[2], pts: mmsPoints, fit: mmsFit, stats: mmsStats,
    xDomain: [-1.02, 3.4], yDomain: [-0.3, 0.35], top: 993, bottom: 1361, titleY: 983,
    xTicks: mmsXTicks, yTicks: mmsYTicks, xMinor: d3.range(-1, 3.45, 0.5), yMinor: d3.range(-6, 7).map(i => i / 20),
    annX: 452, annY: [1293, 1323] }
];

function styleAxis(sel, color) {
  sel.select(".domain").remove();
  sel.selectAll(".tick line").attr("stroke", "#333").attr("stroke-width", 1);
  sel.selectAll(".tick text").attr("fill", color).style("font-family", FONT).style("font-size", "21px");
}

panels.forEach(p => {
  const x = d3.scaleLinear().domain(p.xDomain).range([left, right]);
  const y = d3.scaleLinear().domain(p.yDomain).range([p.bottom, p.top]);
  const g = svg.append("g");

  g.append("text")
    .attr("x", 358).attr("y", p.titleY).attr("text-anchor", "middle")
    .style("font-family", FONT).style("font-size", "29px").attr("fill", INK)
    .text(p.title);

  // minor ticks then labelled ticks
  g.append("g").attr("transform", `translate(${left},0)`)
    .call(d3.axisLeft(y).tickValues(p.yMinor).tickSize(4).tickFormat(""))
    .call(s => styleAxis(s, ORANGE));
  g.append("g").attr("transform", `translate(${left},0)`)
    .call(d3.axisLeft(y).tickValues(p.yTicks).tickSize(7).tickPadding(5).tickFormat(d => d.toFixed(1)))
    .call(s => styleAxis(s, ORANGE));
  g.append("g").attr("transform", `translate(0,${p.bottom})`)
    .call(d3.axisBottom(x).tickValues(p.xMinor).tickSize(4).tickFormat(""))
    .call(s => styleAxis(s, GREEN));
  g.append("g").attr("transform", `translate(0,${p.bottom})`)
    .call(d3.axisBottom(x).tickValues(p.xTicks).tickSize(7).tickPadding(6).tickFormat(d => String(d)))
    .call(s => styleAxis(s, GREEN));

  // zero lines
  g.append("line").attr("x1", x(0)).attr("x2", x(0)).attr("y1", p.top).attr("y2", p.bottom)
    .attr("stroke", "#444").attr("stroke-width", 1);
  g.append("line").attr("x1", left).attr("x2", right).attr("y1", y(0)).attr("y2", y(0))
    .attr("stroke", "#444").attr("stroke-width", 1);

  // plot frame
  g.append("rect")
    .attr("x", left).attr("y", p.top).attr("width", right - left).attr("height", p.bottom - p.top)
    .attr("fill", "none").attr("stroke", "#333").attr("stroke-width", 1.2);

  g.append("g").selectAll("circle")
    .data(p.pts)
    .join("circle")
    .attr("cx", d => x(d[0]))
    .attr("cy", d => y(d[1]))
    .attr("r", 2.6)
    .attr("fill", RED);

  g.append("path")
    .datum(p.fit)
    .attr("d", d3.line().x(d => x(d[0])).y(d => y(d[1])))
    .attr("fill", "none").attr("stroke", "#1a1a1a").attr("stroke-width", 1.4)
    .attr("stroke-dasharray", "9,6");

  p.stats.forEach((s, i) => {
    g.append("text")
      .attr("x", p.annX).attr("y", p.annY[i])
      .style("font-family", FONT).style("font-size", "24px").style("font-style", "italic")
      .attr("fill", RED).text(s);
  });

  // y axis title
  const yt = g.append("text")
    .attr("transform", `translate(64,${(p.top + p.bottom) / 2}) rotate(-90)`)
    .attr("text-anchor", "middle")
    .style("font-family", FONT).style("font-size", "25.5px").attr("fill", ORANGE);
  yt.append("tspan").text("Mean translation change (log");
  yt.append("tspan").attr("baseline-shift", "-25%").style("font-size", "17px").text("2");
  yt.append("tspan").text(")");
});

// x axis title below the last panel
const xt = svg.append("text")
  .attr("x", 360).attr("y", 1413).attr("text-anchor", "middle")
  .style("font-family", FONT).style("font-size", "25.5px").attr("fill", GREEN);
xt.append("tspan").text("Mean mRNA change (log");
xt.append("tspan").attr("baseline-shift", "-25%").style("font-size", "17px").text("2");
xt.append("tspan").text(")");

// caption
const CAP = "Lato, 'Open Sans', sans-serif";
const capX = 26, capY0 = 1465, capStep = 26.3;
const cap = svg.append("g").style("font-family", CAP).attr("fill", "#444");

// pick the font size so the sixth line spans the measured width
const probe = cap.append("text").style("font-size", "19px").text(captionLines[5]);
const capSize = 19 * 583 / probe.node().getComputedTextLength();
probe.remove();
cap.style("font-size", capSize + "px");

// first line is justified: a little tracking, the rest goes into the word gaps
const l1 = cap.append("text").attr("x", capX).attr("y", capY0)
  .style("font-weight", "bold").style("letter-spacing", "1.3px")
  .attr("fill", INK).text(captionLines[0]);
const gaps = captionLines[0].split(" ").length - 1;
l1.style("word-spacing", Math.max(0, (590 - l1.node().getComputedTextLength()) / gaps) + "px");

const l2 = cap.append("text").attr("x", capX).attr("y", capY0 + capStep);
l2.append("tspan").style("font-weight", "bold").attr("fill", INK).text("regulation");
l2.append("tspan").text(captionLines[1]);

const l3 = cap.append("text").attr("x", capX).attr("y", capY0 + 2 * capStep);
l3.append("tspan").text("log");
l3.append("tspan").attr("baseline-shift", "-25%").style("font-size", (capSize * 0.7) + "px").text("2");
l3.append("tspan").text(captionLines[2]);

captionLines.slice(3).forEach((t, i) => {
  cap.append("text").attr("x", capX).attr("y", capY0 + (i + 3) * capStep).text(t);
});
</script>
</body>
</html>
